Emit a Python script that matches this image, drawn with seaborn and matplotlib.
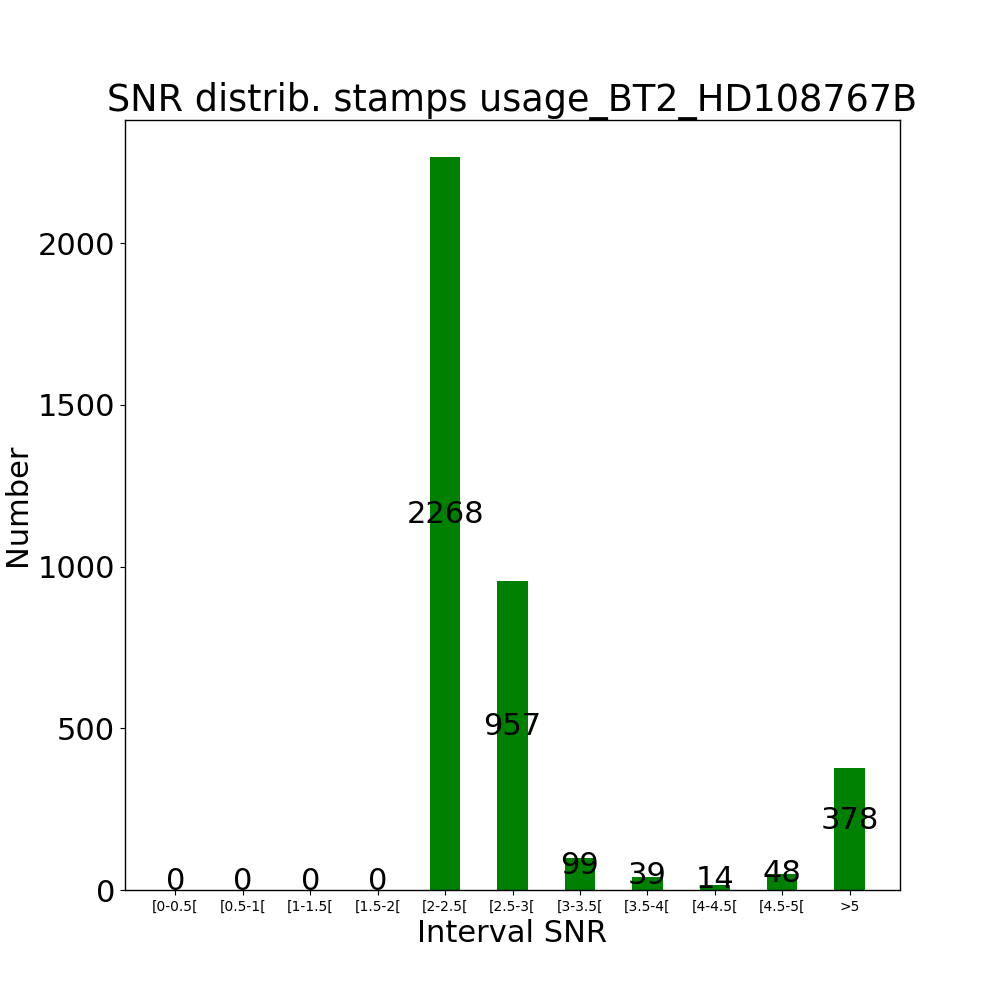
import matplotlib
matplotlib.use("Agg")
import matplotlib.pyplot as plt
import seaborn as sns
import pandas as pd

categories = ["[0-0.5[", "[0.5-1[", "[1-1.5[", "[1.5-2[", "[2-2.5[", "[2.5-3[",
              "[3-3.5[", "[3.5-4[", "[4-4.5[", "[4.5-5[", ">5"]
counts = [0, 0, 0, 0, 2268, 957, 99, 39, 14, 48, 378]
title = "SNR distrib. stamps usage_BT2_HD108767B"

plt.rcParams['font.family'] = ['DejaVu Sans']

df = pd.DataFrame({"interval": categories, "count": counts})

fig = plt.figure(figsize=(10, 10), dpi=100)
ax = fig.add_axes([0.125, 0.11, 0.775, 0.77])
width = 0.45
sns.barplot(data=df, x="interval", y="count", color="green", saturation=1,
            width=width, ax=ax, edgecolor="none")
pad = (len(categories) - 1 + width) * 0.05
ax.set_xlim(-width / 2 - pad, len(categories) - 1 + width / 2 + pad)
ax.set_ylim(0, max(counts) * 1.05)

for i, v in enumerate(counts):
    ax.text(i, v / 2, str(v), ha="center", va="baseline", fontsize=22, color="black")

ax.set_title(title, fontsize=26.4, color="black")
ax.set_xlabel("Interval SNR", fontsize=22, color="black")
ax.set_ylabel("Number", fontsize=22, color="black")
ax.tick_params(axis="x", labelsize=10, colors="black")
ax.tick_params(axis="y", labelsize=22, colors="black")
for s in ax.spines.values():
    s.set_visible(True)
    s.set_color("black")
    s.set_linewidth(1.0)

fig.savefig("out.png", dpi=100)
